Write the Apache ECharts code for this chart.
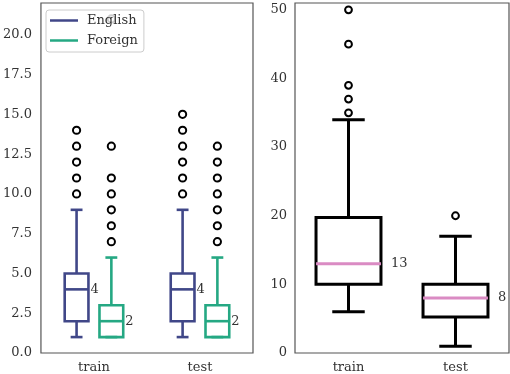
<!DOCTYPE html>
<html>
<head>
    <meta charset="utf-8">
    <script src="https://cdn.jsdelivr.net/npm/echarts@6/dist/echarts.min.js"></script>
</head>
<body style="margin:0">
<div id="main" style="width:510px;height:374px;"></div>
<script type="text/javascript">
    // categories and box stats: [low whisker, q1, median, q3, high whisker]
    var categories = ['train', 'test'];
    var englishBox = [[1, 2, 4, 5, 9], [1, 2, 4, 5, 9]];
    var foreignBox = [[1, 1, 2, 3, 6], [1, 1, 2, 3, 6]];
    var englishOutliers = [[10, 11, 12, 13, 14], [10, 11, 12, 13, 14, 15]];
    var foreignOutliers = [[7, 8, 9, 10, 11, 13, 21], [7, 8, 9, 10, 11, 12, 13]];
    var lengthBox = [[6, 10, 13, 19.75, 34], [1, 5.25, 8, 10, 17]];
    var lengthOutliers = [[35, 37, 39, 45, 50], [20]];

    var FONT = '"DejaVu Serif", serif';

    function boxRows(stats) {
        return stats.map(function (s, i) { return [i].concat(s); });
    }
    function outlierRows(lists) {
        var res = [];
        lists.forEach(function (list, i) {
            list.forEach(function (v) { res.push([i, v]); });
        });
        return res;
    }

    // draws one box: whiskers, caps, box, median, median label
    function boxRenderer(shift, widthRatio, lineW, medColor, labelGap) {
        return function (params, api) {
            var i = api.value(0);
            var band = api.size([1, 0])[0];
            var cx = api.coord([i, 0])[0] + shift * band;
            var half = widthRatio * band / 2;
            var y = [1, 2, 3, 4, 5].map(function (k) {
                return api.coord([i, api.value(k)])[1];
            });
            var color = api.visual('color');
            var ls = {stroke: color, lineWidth: lineW};
            return {
                type: 'group',
                children: [
                    {type: 'line', shape: {x1: cx, y1: y[0], x2: cx, y2: y[1]}, style: ls},
                    {type: 'line', shape: {x1: cx, y1: y[3], x2: cx, y2: y[4]}, style: ls},
                    {type: 'line', shape: {x1: cx - half / 2, y1: y[0], x2: cx + half / 2, y2: y[0]}, style: ls},
                    {type: 'line', shape: {x1: cx - half / 2, y1: y[4], x2: cx + half / 2, y2: y[4]}, style: ls},
                    {type: 'rect', shape: {x: cx - half, y: y[3], width: half * 2, height: y[1] - y[3]},
                        style: {stroke: color, lineWidth: lineW, fill: null}},
                    {type: 'line', shape: {x1: cx - half, y1: y[2], x2: cx + half, y2: y[2]},
                        style: {stroke: medColor || color, lineWidth: lineW}},
                    {type: 'text', style: {text: String(api.value(3)), x: cx + half + labelGap, y: y[2],
                        verticalAlign: 'middle', font: '13px ' + FONT, fill: '#333'}}
                ]
            };
        };
    }

    function outlierRenderer(shift, r) {
        return function (params, api) {
            var band = api.size([1, 0])[0];
            var p = api.coord([api.value(0), api.value(1)]);
            return {
                type: 'circle',
                shape: {cx: p[0] + shift * band, cy: p[1], r: r},
                style: {stroke: '#000', fill: null, lineWidth: 2}
            };
        };
    }

    var myChart = echarts.init(document.getElementById('main'));

    var axisText = {color: '#333', fontFamily: FONT, fontSize: 13};

    option = {
        animation: false,
        backgroundColor: '#fff',
        grid: [
            {left: 39, top: 3, width: 214, height: 350, show: true, borderColor: '#555', borderWidth: 1.2},
            {left: 295, top: 3, width: 214, height: 350, show: true, borderColor: '#555', borderWidth: 1.2}
        ],
        legend: {
            left: 46,
            top: 10,
            orient: 'vertical',
            data: [{name: 'English', icon: 'rect'}, {name: 'Foreign', icon: 'rect'}],
            itemWidth: 28,
            itemHeight: 2.5,
            itemGap: 7,
            padding: [4, 6, 5, 4],
            borderColor: '#ccc',
            borderWidth: 1,
            borderRadius: 3,
            backgroundColor: 'rgba(255,255,255,0.8)',
            textStyle: {color: '#333', fontFamily: FONT, fontSize: 13, padding: [0, 0, 0, 4]}
        },
        xAxis: [
            {type: 'category', gridIndex: 0, data: categories,
                axisLine: {show: false}, axisTick: {show: false},
                axisLabel: Object.assign({margin: 8}, axisText)},
            {type: 'category', gridIndex: 1, data: categories,
                axisLine: {show: false}, axisTick: {show: false},
                axisLabel: Object.assign({margin: 8}, axisText)}
        ],
        yAxis: [
            {type: 'value', gridIndex: 0, min: 0, max: 22, interval: 2.5,
                axisLine: {show: false}, axisTick: {show: false}, splitLine: {show: false},
                axisLabel: Object.assign({margin: 9, showMaxLabel: false,
                    formatter: function (v) { return v.toFixed(1); }}, axisText)},
            {type: 'value', gridIndex: 1, min: 0, max: 51, interval: 10,
                axisLine: {show: false}, axisTick: {show: false}, splitLine: {show: false},
                axisLabel: Object.assign({margin: 8, showMaxLabel: false}, axisText)}
        ],
        series: [
            {
                name: 'English', type: 'custom', xAxisIndex: 0, yAxisIndex: 0,
                itemStyle: {color: '#404788'},
                renderItem: boxRenderer(-0.164, 0.224, 2.6, null, 2),
                encode: {x: 0, y: [1, 2, 3, 4, 5]},
                data: boxRows(englishBox)
            },
            {
                name: 'Foreign', type: 'custom', xAxisIndex: 0, yAxisIndex: 0,
                itemStyle: {color: '#25a883'},
                renderItem: boxRenderer(0.164, 0.224, 2.6, null, 2),
                encode: {x: 0, y: [1, 2, 3, 4, 5]},
                data: boxRows(foreignBox)
            },
            {
                name: 'English outliers', type: 'custom', xAxisIndex: 0, yAxisIndex: 0,
                renderItem: outlierRenderer(-0.164, 3.6),
                encode: {x: 0, y: 1},
                data: outlierRows(englishOutliers)
            },
            {
                name: 'Foreign outliers', type: 'custom', xAxisIndex: 0, yAxisIndex: 0,
                renderItem: outlierRenderer(0.164, 3.6),
                encode: {x: 0, y: 1},
                data: outlierRows(foreignOutliers)
            },
            {
                name: 'Length', type: 'custom', xAxisIndex: 1, yAxisIndex: 1,
                itemStyle: {color: '#000'},
                renderItem: boxRenderer(0, 0.607, 3, '#da8bc3', 10),
                encode: {x: 0, y: [1, 2, 3, 4, 5]},
                data: boxRows(lengthBox)
            },
            {
                name: 'Length outliers', type: 'custom', xAxisIndex: 1, yAxisIndex: 1,
                renderItem: outlierRenderer(0, 3.4),
                encode: {x: 0, y: 1},
                data: outlierRows(lengthOutliers)
            }
        ]
    };
    myChart.setOption(option);
</script>
</body>
</html>
